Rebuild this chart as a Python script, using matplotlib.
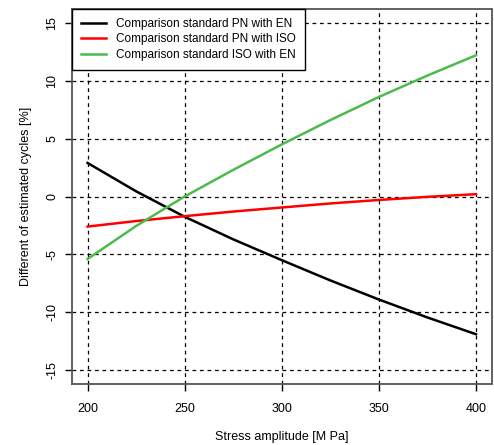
import matplotlib
matplotlib.use("Agg")
import matplotlib.pyplot as plt

# stress amplitude [MPa]
stress = [200, 225, 250, 275, 300, 325, 350, 375, 400]

# difference of estimated cycles [%]
pn_en = [2.9, 0.45, -1.75, -3.7, -5.5, -7.25, -8.9, -10.45, -11.9]
pn_iso = [-2.6, -2.12, -1.7, -1.3, -0.95, -0.6, -0.3, -0.03, 0.2]
iso_en = [-5.4, -2.55, 0.0, 2.3, 4.5, 6.6, 8.6, 10.45, 12.2]

labels = ["Comparison standard PN with EN",
          "Comparison standard PN with ISO",
          "Comparison standard ISO with EN"]

x_ticks = [200, 250, 300, 350, 400]
y_ticks = [-15, -10, -5, 0, 5, 10, 15]

plt.rcParams["font.family"] = ["Liberation Sans", "DejaVu Sans"]

fig = plt.figure(figsize=(4.94, 4.45), dpi=100)
ax = fig.add_axes([72 / 494, (445 - 384) / 445, (491.5 - 72) / 494, (384 - 9) / 445])

ax.plot(stress, pn_en, color="black", lw=1.8, label=labels[0])
ax.plot(stress, pn_iso, color="#ff0000", lw=1.8, label=labels[1])
ax.plot(stress, iso_en, color="#4cbb4c", lw=1.8, label=labels[2])

ax.set_xlim(192, 408)
ax.set_ylim(-16.2, 16.2)
ax.set_xticks(x_ticks)
ax.set_yticks(y_ticks)
ax.set_yticklabels([str(v) for v in y_ticks], rotation=90, va="center")

# dashed grid at the ticks, R style
for xv in x_ticks:
    ax.axvline(xv, color="black", lw=0.9, ls=(0, (3, 3)), zorder=0)
for yv in y_ticks:
    ax.axhline(yv, color="black", lw=0.9, ls=(0, (3, 3)), zorder=0)

for s in ax.spines.values():
    s.set_color("#555555")
    s.set_linewidth(1.3)
ax.tick_params(direction="out", length=5, width=1, color="black",
               labelsize=9, pad=5)
ax.tick_params(axis="x", pad=9)

ax.set_xlabel("Stress amplitude [M Pa]", fontsize=9, labelpad=11)
ax.set_ylabel("Different of estimated cycles [%]", fontsize=9, labelpad=10)

leg = ax.legend(loc="upper left", bbox_to_anchor=(0, 1), borderaxespad=0,
                fancybox=False, edgecolor="black", framealpha=1, fontsize=8.5,
                handlelength=2.1, handletextpad=0.9, labelspacing=0.3,
                borderpad=0.75)
leg.get_frame().set_linewidth(1.0)

plt.savefig("out.png", dpi=100)
